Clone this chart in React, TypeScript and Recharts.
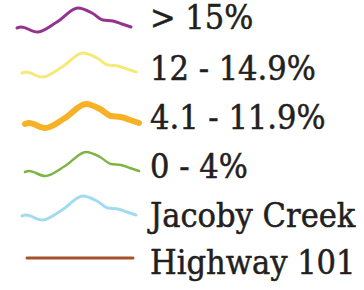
import { LineChart, Line, XAxis, YAxis } from "recharts"

// legend categories
const labels = ["> 15%", "12 - 14.9%", "4.1 - 11.9%", "0 - 4%", "Jacoby Creek", "Highway 101"]
const colors = ["#93338f", "#f5e97a", "#f7b125", "#7cb446", "#a2dbef", "#a5532a"]

// squiggle used as the stream symbol, and the flat road symbol
const waveX = [0, 4, 20, 40, 61, 75, 86, 96, 105, 114]
const waveY = [0, 1, -4, 6, 20, 15, 8, 7, 4, 1]
const roadX = [0, 106]
const roadY = [0, 0]

const wave = waveX.map((x, i) => ({ x, y: waveY[i] }))
const road = roadX.map((x, i) => ({ x, y: roadY[i] }))

const rows = [
  { left: 13, top: 4, width: 3, data: wave },
  { left: 18, top: 49, width: 3, data: wave },
  { left: 21, top: 100, width: 6, data: wave },
  { left: 21, top: 148, width: 2.5, data: wave },
  { left: 18, top: 192, width: 3, data: wave },
  { left: 23, top: 246, width: 3, data: road },
]
const baselines = [29, 80, 129, 178, 227, 274]

export default function App() {
  return (
    <div style={{ position: "absolute", left: 0, top: 0, width: 364, height: 290, background: "#fff" }}>
      {rows.map((r, i) => (
        <div key={i} style={{ position: "absolute", left: r.left, top: r.top }}>
          <LineChart
            width={122}
            height={i === 5 ? 24 : 32}
            data={r.data}
            margin={{ top: 4, right: 4, bottom: 4, left: 4 }}
          >
            <XAxis dataKey="x" type="number" domain={[0, 114]} hide />
            <YAxis type="number" domain={i === 5 ? [-1, 1] : [-4, 20]} hide />
            <Line
              dataKey="y"
              type="monotone"
              stroke={colors[i]}
              strokeWidth={r.width}
              strokeLinecap="round"
              dot={false}
              isAnimationActive={false}
            />
          </LineChart>
        </div>
      ))}
      <svg width={364} height={290} style={{ position: "absolute", left: 0, top: 0 }}>
        {labels.map((t, i) => (
          <text
            key={t}
            x={150}
            y={baselines[i]}
            fontFamily="'DejaVu Serif Condensed', 'DejaVu Serif'"
            fontStretch="condensed"
            fontSize={34}
            fill="#231f20"
            stroke="#231f20"
            strokeWidth={0.5}
          >
            {t}
          </text>
        ))}
      </svg>
    </div>
  )
}
